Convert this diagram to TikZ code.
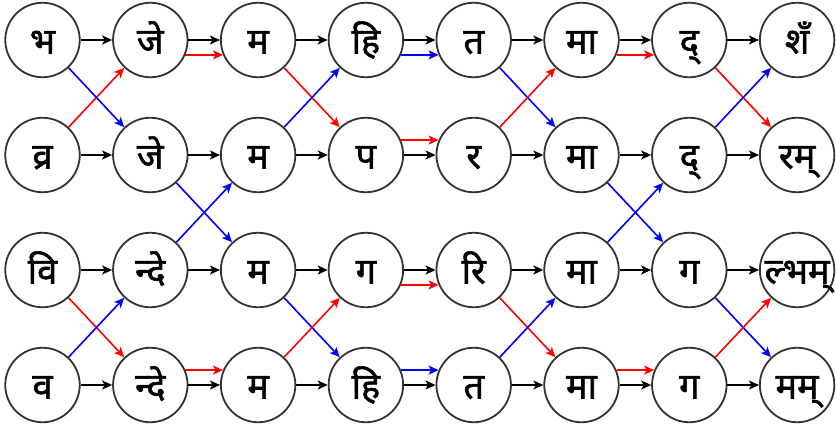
\documentclass[tikz,border=0pt]{standalone}
\usepackage{fontspec}
\newfontfamily\deva[Script=Devanagari,FakeBold=1.6]{Noto Sans}
\usetikzlibrary{arrows.meta}
\definecolor{ringgray}{HTML}{333333}
\tikzset{
  syl/.style={circle, draw=ringgray, line width=1.8pt, fill=white, minimum size=74.5pt, inner sep=0pt,
    font=\deva\fontsize{36}{36}\selectfont, text height=27pt, text depth=0pt},
  arr/.style={line width=1.6pt, -{Stealth[length=10pt,width=9pt,inset=2.5pt]}},
  blk/.style={arr, black},
  redarr/.style={arr, red},
  bluarr/.style={arr, blue},
}
\begin{document}
\begin{tikzpicture}[x=1pt,y=-1pt]
\useasboundingbox (0,0) rectangle (836,434);
\def\rowA{40}\def\rowB{155}\def\rowC{270}\def\rowD{385}
\foreach \lab [count=\i] in {भ,जे,म,हि,त,मा,द्,शँ}
  \node[syl] (a\i) at ({42.5+107.8*(\i-1)},\rowA) {\lab};
\foreach \lab [count=\i] in {व्र,जे,म,प,र,मा,द्,रम्}
  \node[syl] (b\i) at ({42.5+107.8*(\i-1)},\rowB) {\lab};
\foreach \lab [count=\i] in {वि,न्दे,म,ग,रि,मा,ग,ल्भम्}
  \node[syl] (c\i) at ({42.5+107.8*(\i-1)},\rowC) {\lab};
\foreach \lab [count=\i] in {व,न्दे,म,हि,त,मा,ग,मम्}
  \node[syl] (d\i) at ({42.5+107.8*(\i-1)},\rowD) {\lab};
% black row arrows
\foreach \i [evaluate=\i as \j using int(\i+1)] in {1,...,7}{
  \draw[blk] (a\i) -- (a\j);
  \draw[blk] (b\i) -- (b\j);
  \draw[blk] (c\i) -- (c\j);
  \draw[blk] (d\i) -- (d\j);
}
% columns 1-2
\draw[redarr] (b1) -- (a2);
\draw[bluarr] (a1) -- (b2);
\draw[redarr] (c1) -- (d2);
\draw[bluarr] (d1) -- (c2);
% columns 2-3
\draw[redarr] (a2.-23) -- (a3.203);
\draw[bluarr] (b2) -- (c3);
\draw[bluarr] (c2) -- (b3);
\draw[redarr] (d2.23) -- (d3.157);
% columns 3-4
\draw[redarr] (a3) -- (b4);
\draw[bluarr] (b3) -- (a4);
\draw[bluarr] (c3) -- (d4);
\draw[redarr] (d3) -- (c4);
% columns 4-5
\draw[bluarr] (a4.-23) -- (a5.203);
\draw[redarr] (b4.23) -- (b5.157);
\draw[redarr] (c4.-23) -- (c5.203);
\draw[bluarr] (d4.23) -- (d5.157);
% columns 5-6
\draw[bluarr] (a5) -- (b6);
\draw[redarr] (b5) -- (a6);
\draw[redarr] (c5) -- (d6);
\draw[bluarr] (d5) -- (c6);
% columns 6-7
\draw[redarr] (a6.-23) -- (a7.203);
\draw[bluarr] (b6) -- (c7);
\draw[bluarr] (c6) -- (b7);
\draw[redarr] (d6.23) -- (d7.157);
% columns 7-8
\draw[redarr] (a7) -- (b8);
\draw[bluarr] (b7) -- (a8);
\draw[bluarr] (c7) -- (d8);
\draw[redarr] (d7) -- (c8);
\end{tikzpicture}
\end{document}
